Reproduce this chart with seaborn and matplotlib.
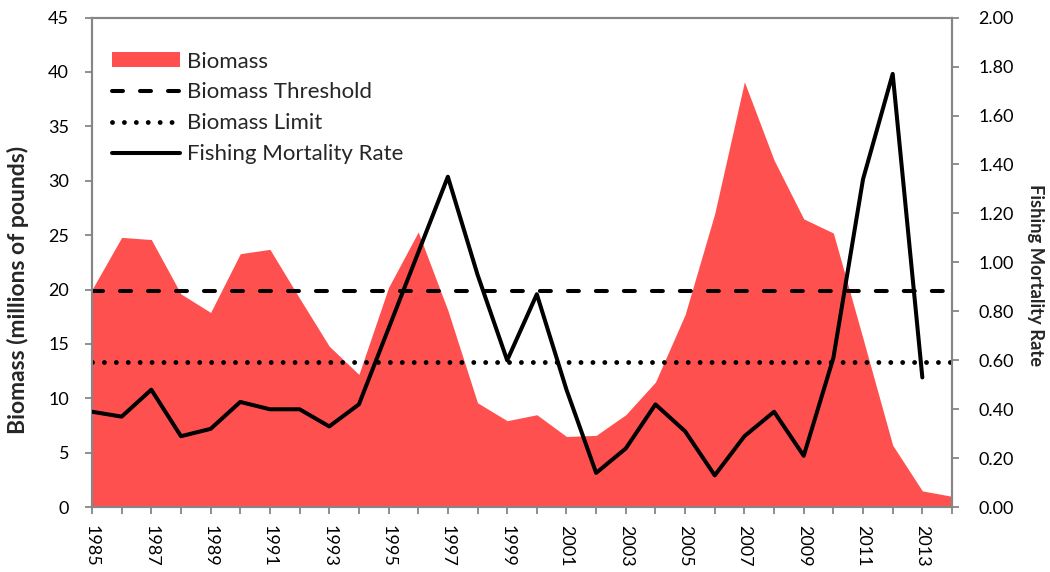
import matplotlib
matplotlib.use('Agg')
import matplotlib.pyplot as plt
import seaborn as sns
import pandas as pd
from matplotlib.patches import Patch
from matplotlib.lines import Line2D
from matplotlib.ticker import FormatStrFormatter, MultipleLocator

years = list(range(1985, 2015))
biomass = [20.0, 24.8, 24.6, 19.6, 17.9, 23.3, 23.7, 19.2, 14.8, 12.2,
           20.2, 25.3, 18.1, 9.6, 7.95, 8.5, 6.5, 6.6, 8.5, 11.5,
           17.7, 27.0, 39.1, 31.9, 26.5, 25.2, 15.5, 5.7, 1.5, 1.0]
mort_years = list(range(1985, 2014))
mortality = [0.39, 0.37, 0.48, 0.29, 0.32, 0.43, 0.40, 0.40, 0.33, 0.42,
             0.73, 1.04, 1.35, 0.95, 0.60, 0.87, 0.48, 0.14, 0.24, 0.42,
             0.31, 0.13, 0.29, 0.39, 0.21, 0.61, 1.34, 1.77, 0.53]
threshold = 19.9
limit = 13.3
labels = ["Biomass", "Biomass Threshold", "Biomass Limit", "Fishing Mortality Rate"]

sns.set_theme(style="white")
plt.rcParams['font.family'] = ['Lato', 'DejaVu Sans']

df_b = pd.DataFrame({"year": years, "biomass": biomass})
df_m = pd.DataFrame({"year": mort_years, "mortality": mortality})

fill_color = "#FF5050"
spine_color = "#868686"
dash_style = (0, (2.73, 4.22))
dot_style = (0, (0.001, 2.45))

fig = plt.figure(figsize=(10.5, 5.72), dpi=100)
ax = fig.add_axes([92/1050, 1-507.2/572, 860/1050, 489.6/572])
ax2 = ax.twinx()

ax.fill_between(df_b["year"], 0, df_b["biomass"], color=fill_color, lw=0, zorder=1)
ax.axhline(threshold, color='black', lw=2.9, ls=dash_style, dash_capstyle='round', zorder=3)
ax.axhline(limit, color='black', lw=3.5, ls=dot_style, dash_capstyle='round', zorder=3)

sns.lineplot(data=df_m, x="year", y="mortality", ax=ax2, color='black', lw=2.9, zorder=4)

ax.set_xlim(1985, 2014)
ax.set_ylim(0, 45)
ax2.set_ylim(0, 2.0)
ax.yaxis.set_major_locator(MultipleLocator(5))
ax2.yaxis.set_major_locator(MultipleLocator(0.2))
ax2.yaxis.set_major_formatter(FormatStrFormatter('%.2f'))

ax.set_xticks(years)
ax.set_xticklabels([str(y) if (y - 1985) % 2 == 0 else '' for y in years], rotation=270)

for a in (ax, ax2):
    for s in a.spines.values():
        s.set_color(spine_color)
        s.set_linewidth(1.5)

ax.xaxis.set_tick_params(which='major', bottom=True, direction='out', length=5, width=1.3,
                         color=spine_color, labelsize=13, labelcolor='black', pad=7.5)
ax.yaxis.set_tick_params(which='major', left=True, direction='out', length=5, width=1.3,
                         color=spine_color, labelsize=13, labelcolor='black', pad=11.5)
ax2.yaxis.set_tick_params(which='major', right=True, direction='out', length=5, width=1.3,
                          color=spine_color, labelsize=13, labelcolor='black', pad=14)

ax.set_xlabel("")
ax2.set_xlabel("")
ax.set_ylabel("Biomass (millions of pounds)", fontsize=16.5, fontweight='bold')
ax.yaxis.set_label_coords(-0.0733, 0.4436)
ax2.set_ylabel("Fishing Mortality Rate", fontsize=13.2, fontweight='bold', rotation=270)
ax2.yaxis.set_label_coords(1.107, 0.474)

handles = [Patch(facecolor=fill_color, edgecolor='none'),
           Line2D([], [], color='black', lw=2.9, ls=dash_style, dash_capstyle='round'),
           Line2D([], [], color='black', lw=3.5, ls=dot_style, dash_capstyle='round'),
           Line2D([], [], color='black', lw=2.9)]
leg = ax2.legend(handles, labels, loc='upper left', bbox_to_anchor=(0.0233, 0.9306),
                 frameon=False, fontsize=16, handlelength=3.06, handleheight=0.65,
                 handletextpad=0.32, labelspacing=0.49, borderaxespad=0, borderpad=0)

fig.savefig("out.png", dpi=100)
